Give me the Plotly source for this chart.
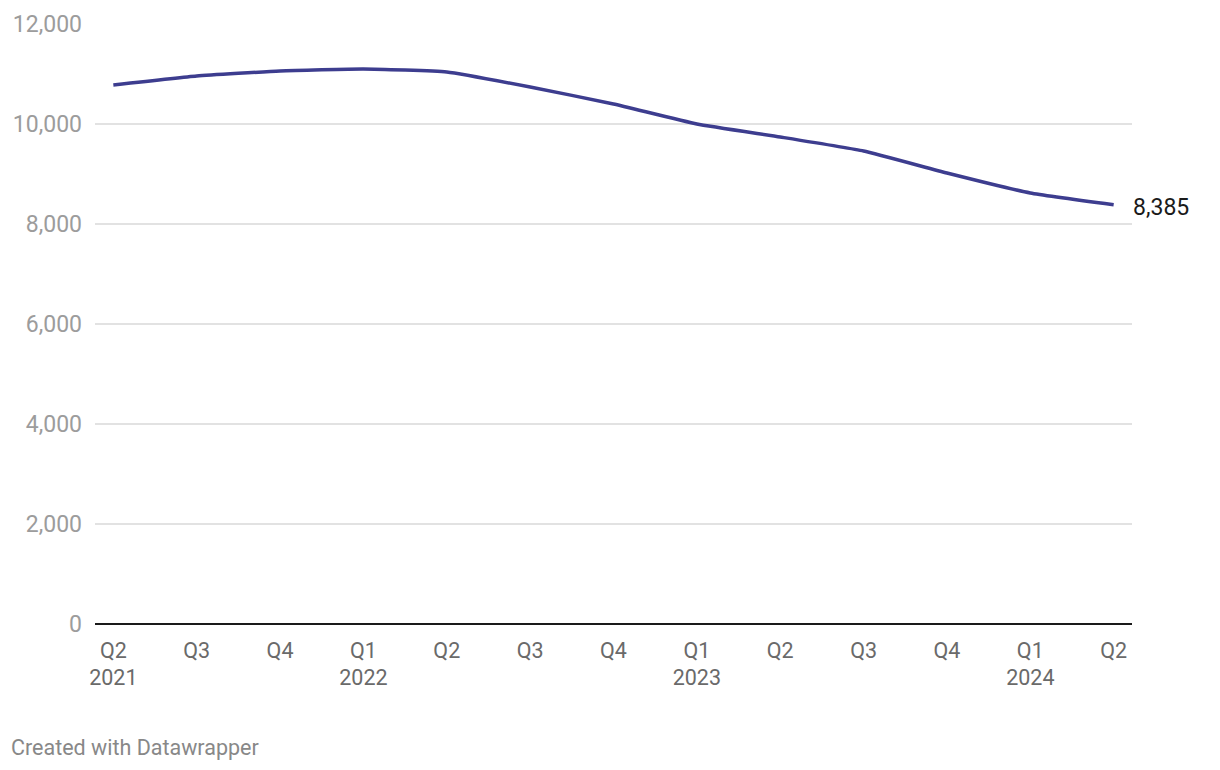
import plotly.graph_objects as go

quarters = ["Q2", "Q3", "Q4", "Q1", "Q2", "Q3", "Q4", "Q1", "Q2", "Q3", "Q4", "Q1", "Q2"]
years = ["2021", "", "", "2022", "", "", "", "2023", "", "", "", "2024", ""]
values = [10780, 10960, 11060, 11100, 11040, 10740, 10400, 10000, 9740, 9460, 9020, 8620, 8385]
y_ticks = [0, 2000, 4000, 6000, 8000, 10000, 12000]

idx = list(range(len(values)))
tick_text = [q + ("<br>" + y if y else "") for q, y in zip(quarters, years)]

fig = go.Figure()
fig.add_trace(go.Scatter(
    x=idx, y=values, mode="lines",
    line=dict(color="#3d3d8f", width=3.5, shape="spline", smoothing=0.4),
    hoverinfo="skip", showlegend=False, cliponaxis=False,
))

fig.add_annotation(
    x=idx[-1], y=values[-1], xref="x", yref="y",
    text=f"{values[-1]:,}", showarrow=False,
    xanchor="left", yanchor="middle", xshift=17, yshift=-3,
    font=dict(family="Roboto", size=23, color="#1a1a1a"),
)
fig.add_annotation(
    x=-0.083, y=-0.205, xref="paper", yref="paper",
    text="Created with Datawrapper", showarrow=False,
    xanchor="left", yanchor="middle",
    font=dict(family="Roboto", size=21.5, color="#888888"),
)

fig.update_layout(
    width=1204, height=754,
    margin=dict(l=87, r=80, t=16, b=138, autoexpand=False),
    paper_bgcolor="white", plot_bgcolor="white",
    font=dict(family="Roboto"),
    xaxis=dict(
        range=[-0.22, 12.22], tickmode="array", tickvals=idx, ticktext=tick_text,
        showgrid=False, zeroline=False, showline=False, ticks="",
        tickfont=dict(family="Roboto", size=21.5, color="#6a6a6a"),
        ticklabelstandoff=11, automargin=False,
    ),
    yaxis=dict(
        range=[0, 12000], tickmode="array", tickvals=y_ticks, tickformat=",",
        showgrid=True, gridcolor="#e2e2e2", gridwidth=1.5,
        zeroline=True, zerolinecolor="#1a1a1a", zerolinewidth=2,
        showline=False, ticks="",
        tickfont=dict(family="Roboto", size=23, color="#9c9c9c"),
        ticklabelstandoff=12, automargin=False,
    ),
)

fig.write_html("out.html")
